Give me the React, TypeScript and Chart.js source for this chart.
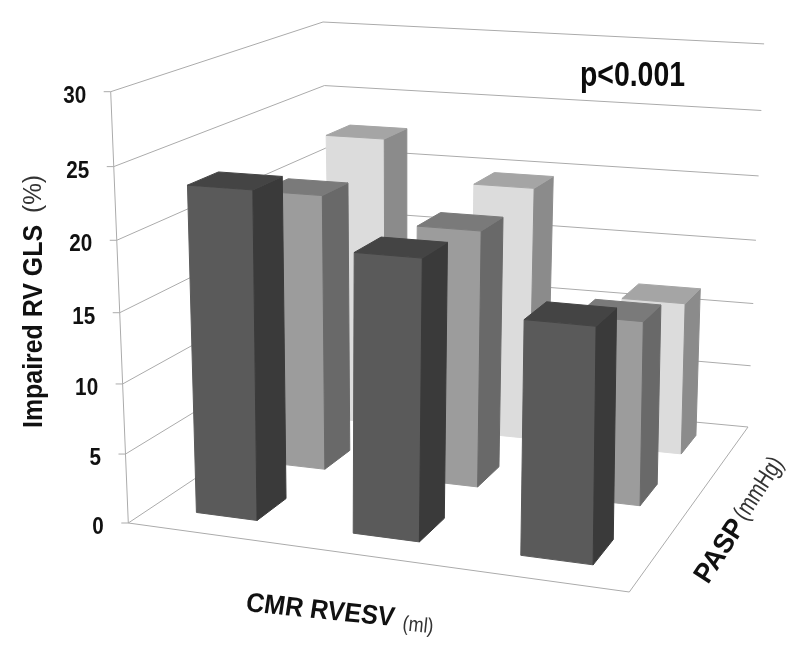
import React, { useEffect, useRef } from "react";
import { Chart, registerables } from "chart.js";

Chart.register(...registerables);

// ---- data ----
const valueTicks = [0, 5, 10, 15, 20, 25, 30];
const seriesFront = [23.3, 19.6, 16.1];
const seriesMiddle = [20.6, 18.9, 13.4];
const seriesBack = [22.6, 19.6, 11.7];

// ---- 3D frame of the plot, expressed in the hidden 800x646 scales ----
type Pt = [number, number];
const floorFrame: Pt[] = [[128.3, 523], [629.3, 592], [331, 388], [748, 427]];
const topFrame: Pt[] = [[110.7, 91.7], [633, 122], [323, 22], [760, 43.7]];
const valueMax = 30;
const depthBend = 0.051;
const wallOverrun = 0.009;
const colStarts = [0.1, 0.44, 0.773];
const rowStarts = [0.1, 0.43, 0.77];
const barSpan = 0.135;

function quad(q: Pt[], u: number, v: number): Pt {
  const [p00, p10, p01, p11] = q;
  const dx1 = [p10[0] - p11[0], p10[1] - p11[1]];
  const dx2 = [p01[0] - p11[0], p01[1] - p11[1]];
  const s = [p00[0] - p10[0] + p11[0] - p01[0], p00[1] - p10[1] + p11[1] - p01[1]];
  const det = dx1[0] * dx2[1] - dx1[1] * dx2[0];
  const g = (s[0] * dx2[1] - s[1] * dx2[0]) / det;
  const h = (dx1[0] * s[1] - dx1[1] * s[0]) / det;
  const den = g * u + h * v + 1;
  const x = ((p10[0] - p00[0] + g * p10[0]) * u + (p01[0] - p00[0] + h * p01[0]) * v + p00[0]) / den;
  const y = ((p10[1] - p00[1] + g * p10[1]) * u + (p01[1] - p00[1] + h * p01[1]) * v + p00[1]) / den;
  return [x, y];
}

function project(u: number, v: number, w: number): { x: number; y: number } {
  const a = quad(floorFrame, u, v);
  const b = quad(topFrame, u, v);
  const r = w / valueMax;
  const t = r / (1 + depthBend * (1 - r));
  return { x: a[0] + (b[0] - a[0]) * t, y: a[1] + (b[1] - a[1]) * t };
}

const gridColor = "#ababab";

function lineSet(points: { x: number; y: number }[]) {
  return {
    data: points,
    showLine: true,
    fill: false,
    borderColor: gridColor,
    borderWidth: 1,
    pointRadius: 0,
    tension: 0,
  };
}

function faceSet(points: { x: number; y: number }[], color: string) {
  return {
    data: [...points, points[0]],
    showLine: true,
    fill: "shape",
    backgroundColor: color,
    borderColor: color,
    borderWidth: 1,
    pointRadius: 0,
    tension: 0,
  };
}

function barFaces(col: number, row: number, value: number, colors: string[]) {
  const u0 = colStarts[col];
  const u1 = u0 + barSpan;
  const v0 = rowStarts[row];
  const v1 = v0 + barSpan;
  return [
    faceSet([project(u0, v0, 0), project(u1, v0, 0), project(u1, v0, value), project(u0, v0, value)], colors[0]),
    faceSet([project(u1, v0, 0), project(u1, v1, 0), project(u1, v1, value), project(u1, v0, value)], colors[1]),
    faceSet([project(u0, v0, value), project(u1, v0, value), project(u1, v1, value), project(u0, v1, value)], colors[2]),
  ];
}

const darkColors = ["#5a5a5a", "#3a3a3a", "#444444"];
const midColors = ["#9c9c9c", "#696969", "#7a7a7a"];
const lightColors = ["#dcdcdc", "#8b8b8b", "#a5a5a5"];

function buildDatasets() {
  const out: any[] = [];
  valueTicks.forEach((w) => {
    const a = project(0, 0, w);
    const endU = 1 + (wallOverrun * w) / valueMax;
    out.push(lineSet([{ x: a.x - 7, y: a.y }, a, project(0, 1, w), project(endU, 1, w)]));
  });
  out.push(lineSet([project(0, 0, 0), project(0, 0, valueMax)]));
  out.push(lineSet([project(0, 0, 0), project(1, 0, 0), project(1, 1, 0)]));
  seriesBack.forEach((val, c) => out.push(...barFaces(c, 2, val, lightColors)));
  seriesMiddle.forEach((val, c) => out.push(...barFaces(c, 1, val, midColors)));
  seriesFront.forEach((val, c) => out.push(...barFaces(c, 0, val, darkColors)));
  // Chart.js paints the lowest-order dataset last.
  return out.map((d, i) => ({ ...d, order: out.length - i }));
}

type Label = {
  text: string;
  x: number;
  y: number;
  angle: number;
  font: string;
  width: number;
  color: string;
  skew?: number;
};

const boldFace = '"Liberation Sans", Arial, sans-serif';
const textLabels: Label[] = [
  { text: "p<0.001", x: 580, y: 86, angle: 0, font: `bold 35px ${boldFace}`, width: 105, color: "#0c0c0c" },
  { text: "Impaired RV GLS", x: 42, y: 428, angle: -90, font: `bold 27px ${boldFace}`, width: 203, color: "#111111" },
  { text: "(%)", x: 41, y: 213, angle: -90, font: `25px ${boldFace}`, width: 38, color: "#333333" },
  { text: "CMR RVESV", x: 245, y: 611, angle: 5.8, font: `bold 27px ${boldFace}`, width: 149, color: "#111111", skew: -0.05 },
  { text: "(ml)", x: 402, y: 630, angle: 6, font: `21px ${boldFace}`, width: 31, color: "#333333" },
  { text: "PASP", x: 708, y: 585, angle: -57, font: `bold 28px ${boldFace}`, width: 70, color: "#111111" },
  { text: "(mmHg)", x: 746, y: 522, angle: -57, font: `25px ${boldFace}`, width: 70, color: "#333333" },
];

const textPlugin = {
  id: "chartText",
  afterDraw(chart: any) {
    const { ctx, scales } = chart;
    const px = (x: number) => scales.x.getPixelForValue(x);
    const py = (y: number) => scales.y.getPixelForValue(y);
    ctx.save();
    ctx.textBaseline = "alphabetic";
    ctx.textAlign = "left";
    textLabels.forEach((l) => {
      ctx.save();
      ctx.font = l.font;
      ctx.fillStyle = l.color;
      ctx.translate(px(l.x), py(l.y));
      ctx.rotate((l.angle * Math.PI) / 180);
      ctx.transform(l.width / ctx.measureText(l.text).width, 0, l.skew ?? 0, 1, 0, 0);
      ctx.fillText(l.text, 0, 0);
      ctx.restore();
    });
    ctx.font = `bold 23.5px ${boldFace}`;
    ctx.fillStyle = "#111111";
    valueTicks.forEach((w) => {
      const p = project(0, 0, w);
      ctx.save();
      ctx.translate(px(p.x - 24.5), py(p.y + 11));
      ctx.scale(0.88, 1);
      ctx.textAlign = "right";
      ctx.fillText(String(w), 0, 0);
      ctx.restore();
    });
    ctx.restore();
  },
};

export default function App() {
  const ref = useRef<HTMLCanvasElement>(null);
  useEffect(() => {
    if (!ref.current) return;
    const chart = new Chart(ref.current, {
      type: "scatter",
      data: { datasets: buildDatasets() },
      options: {
        responsive: false,
        animation: false,
        layout: { padding: 0 },
        scales: {
          x: { type: "linear", min: 0, max: 800, display: false },
          y: { type: "linear", min: 0, max: 646, reverse: true, display: false },
        },
        plugins: {
          legend: { display: false },
          tooltip: { enabled: false },
          filler: { drawTime: "beforeDatasetDraw" },
        },
      },
      plugins: [textPlugin],
    } as any);
    return () => chart.destroy();
  }, []);
  return (
    <div style={{ position: "absolute", left: 0, top: 0, background: "#ffffff" }}>
      <canvas ref={ref} width={800} height={646} style={{ display: "block" }} />
    </div>
  );
}
